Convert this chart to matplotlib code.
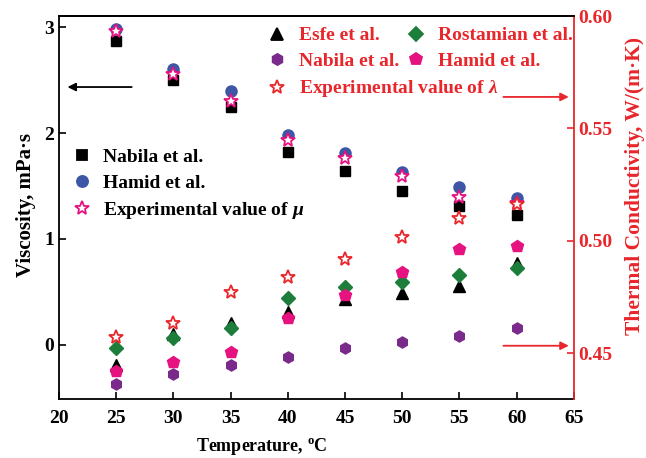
import matplotlib.pyplot as plt
from matplotlib.lines import Line2D

plt.rcParams['font.family'] = ['Liberation Serif', 'DejaVu Serif']
plt.rcParams['font.weight'] = 'bold'
plt.rcParams['axes.labelweight'] = 'bold'
plt.rcParams['mathtext.fontset'] = 'custom'
plt.rcParams['mathtext.it'] = 'Liberation Serif:italic:bold'
plt.rcParams['mathtext.rm'] = 'Liberation Serif:bold'

temp = [25, 30, 35, 40, 45, 50, 55, 60]

# viscosity, mPa*s (left axis)
visc_nabila = [2.87, 2.50, 2.25, 1.82, 1.64, 1.45, 1.31, 1.23]
visc_hamid = [2.98, 2.60, 2.40, 1.98, 1.81, 1.63, 1.49, 1.39]
visc_exp = [2.96, 2.56, 2.30, 1.93, 1.76, 1.59, 1.40, 1.34]

# thermal conductivity, W/(m*K) (right axis)
tc_esfe = [0.4449, 0.4586, 0.4634, 0.4682, 0.4741, 0.4768, 0.4800, 0.4901]
tc_rostamian = [0.4525, 0.4568, 0.4611, 0.4747, 0.4795, 0.4817, 0.4847, 0.4880]
tc_nabila = [0.4365, 0.4406, 0.4447, 0.4483, 0.4524, 0.4549, 0.4575, 0.4610]
tc_hamid = [0.4420, 0.4462, 0.4504, 0.4655, 0.4759, 0.4859, 0.4963, 0.4979]
tc_exp = [0.4572, 0.4633, 0.4773, 0.4837, 0.4919, 0.5016, 0.5101, 0.5164]

RED = '#e8262b'
BLUE = '#3d57a6'
PINK = '#e5127f'
GREEN = '#1d7d3b'
PURPLE = '#7a2a8a'

fig = plt.figure(figsize=(6.46, 4.58), dpi=100)
ax = fig.add_axes([0.0913, 0.1288, 0.797, 0.8362])
ax2 = ax.twinx()

ax.plot(temp, visc_nabila, 's', color='black', ms=7, ls='none')
ax.plot(temp, visc_hamid, 'o', color=BLUE, ms=8, ls='none')
ax.plot(temp, visc_exp, '*', mfc='white', mec=PINK, mew=1.3, ms=10, ls='none')

ax2.plot(temp, tc_esfe, '^', color='black', ms=8, ls='none')
ax2.plot(temp, tc_rostamian, 'D', color=GREEN, ms=7, ls='none')
ax2.plot(temp, tc_nabila, 'h', color=PURPLE, ms=8, ls='none')
ax2.plot(temp, tc_hamid, 'p', color=PINK, ms=9, ls='none')
ax2.plot(temp, tc_exp, '*', mfc='white', mec=RED, mew=1.3, ms=10, ls='none')

ax.set_xlim(20, 65)
ax.set_ylim(-0.51, 3.104)
ax2.set_ylim(0.4296, 0.60)
ax.set_xticks(range(20, 66, 5))
ax.set_yticks([0, 1, 2, 3])
ax2.set_yticks([0.45, 0.50, 0.55, 0.60])
ax2.set_yticklabels(['0.45', '0.50', '0.55', '0.60'])

ax.tick_params(direction='in', labelsize=14, width=1.2, length=5)
ax.tick_params(axis='x', pad=8)
ax2.tick_params(direction='in', labelsize=14, width=1.2, length=5, colors=RED)
for lbl in ax.get_xticklabels() + ax.get_yticklabels() + ax2.get_yticklabels():
    lbl.set_fontweight('bold')
for sp in ['left', 'bottom', 'top']:
    ax.spines[sp].set_linewidth(1.3)
ax2.spines['right'].set_color(RED)
ax2.spines['right'].set_linewidth(1.3)
ax.spines['right'].set_visible(False)
ax2.spines['left'].set_visible(False)
ax2.spines['top'].set_linewidth(1.3)
ax2.spines['bottom'].set_visible(False)

ax.set_xlabel('Temperature, $^{\\rm o}$C', fontsize=13, fontweight='bold')
ax.xaxis.set_label_coords(0.394, -0.097)
ax.set_ylabel('Viscosity, mPa·s', fontsize=15, fontweight='bold')
ax.yaxis.set_label_coords(-0.045, 0.506)
ax2.set_ylabel('Thermal Conductivity, W/(m·K)', fontsize=15.5, fontweight='bold', color=RED)
ax2.yaxis.set_label_coords(1.1, 0.556)

# arrows pointing to each axis
ax.annotate('', xy=(20.5, 2.434), xytext=(26.6, 2.434),
            arrowprops=dict(arrowstyle='-|>', color='black', lw=1.3, mutation_scale=12))
ax2.annotate('', xy=(64.8, 0.564), xytext=(58.6, 0.564),
             arrowprops=dict(arrowstyle='-|>', color=RED, lw=1.3, mutation_scale=12))
ax2.annotate('', xy=(64.8, 0.4533), xytext=(58.6, 0.4533),
             arrowprops=dict(arrowstyle='-|>', color=RED, lw=1.3, mutation_scale=12))

def handle(marker, fc, ec, ms):
    return Line2D([], [], ls='none', marker=marker, mfc=fc, mec=ec, ms=ms, mew=1.3)

leg_kw = dict(frameon=False, handlelength=1.0, handletextpad=0.6,
              labelspacing=0.42, borderpad=0, borderaxespad=0,
              prop={'size': 14, 'weight': 'bold'})

leg1 = ax2.legend([handle('^', 'black', 'black', 8), handle('h', PURPLE, PURPLE, 8),
                   handle('*', 'white', RED, 10)],
                  ['Esfe et al.', 'Nabila et al.', 'Experimental value of $\\it{\\lambda}$'],
                  loc='upper left', bbox_to_anchor=(0.405, 0.972), labelcolor=RED, **leg_kw)
ax2.add_artist(leg1)
leg2 = ax2.legend([handle('D', GREEN, GREEN, 7), handle('p', PINK, PINK, 9)],
                  ['Rostamian et al.', 'Hamid et al.'],
                  loc='upper left', bbox_to_anchor=(0.675, 0.972), labelcolor=RED, **leg_kw)
ax2.add_artist(leg2)
ax2.legend([handle('s', 'black', 'black', 7), handle('o', BLUE, BLUE, 8),
            handle('*', 'white', PINK, 10)],
           ['Nabila et al.', 'Hamid et al.', 'Experimental value of $\\it{\\mu}$'],
           loc='upper left', bbox_to_anchor=(0.025, 0.655), labelcolor='black', **leg_kw)

fig.savefig('out.png', dpi=100)
